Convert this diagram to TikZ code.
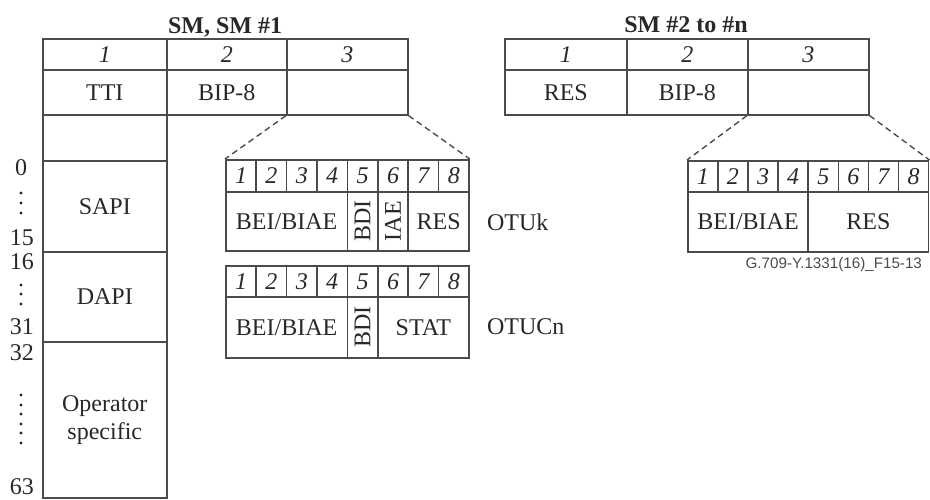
\documentclass[tikz,border=0pt]{standalone}
\usepackage{fontspec}
\setmainfont{Liberation Serif}
\newfontfamily\figsans{Liberation Sans}
\usepackage{xcolor}
\usepackage{tikz}
\usetikzlibrary{positioning}
\definecolor{LineaGris}{RGB}{75,75,75}
\definecolor{TextoGris}{RGB}{40,40,40}

\tikzset{
  celda/.style={draw=LineaGris, line width=0.8pt, inner sep=0pt, anchor=north west,
    text=TextoGris, font=\fontsize{12}{14}\selectfont},
  numcelda/.style={celda, font=\fontsize{12}{14}\selectfont\itshape},
  titulo/.style={text=TextoGris, font=\fontsize{12}{14}\selectfont\bfseries},
  etiqueta/.style={text=TextoGris, font=\fontsize{12}{14}\selectfont},
  indice/.style={etiqueta, inner sep=0pt},
  zoomlinea/.style={draw=LineaGris, line width=0.7pt, dash pattern=on 3pt off 2pt},
}

\begin{document}
\begin{tikzpicture}[x=0.5pt,y=-0.5pt]
  \useasboundingbox (0,0) rectangle (930,499);

  % SM, SM #1
  \node[titulo] (tSM) at (225,27) {SM, SM \#1};
  \node[numcelda, minimum width=62pt, minimum height=15.5pt] (h1) at (42,38) {1};
  \node[numcelda, minimum width=60pt, minimum height=15.5pt] (h2) at (166,38) {2};
  \node[numcelda, minimum width=60.5pt, minimum height=15.5pt] (h3) at (286,38) {3};
  \node[celda, minimum width=62pt, minimum height=22.5pt] (tti) at (42,69) {TTI};
  \node[celda, minimum width=60pt, minimum height=22.5pt] (bip) at (166,69) {BIP-8};
  \node[celda, minimum width=60.5pt, minimum height=22.5pt] (c3) at (286,69) {};

  % columna TTI
  \node[celda, minimum width=62pt, minimum height=23pt] (vacio) at (42,114) {};
  \node[celda, minimum width=62pt, minimum height=45.5pt] (sapi) at (42,160) {SAPI};
  \node[celda, minimum width=62pt, minimum height=45pt] (dapi) at (42,251) {DAPI};
  \node[celda, minimum width=62pt, minimum height=78pt, align=center] (oper) at (42,341) {Operator\\specific};

  % indices de byte
  \node[indice] (n0) at (21,168) {0};
  \node[indice] (n15) at (22,238) {15};
  \node[indice] (n16) at (22,262) {16};
  \node[indice] (n31) at (22,327) {31};
  \node[indice] (n32) at (22,353) {32};
  \node[indice] (n63) at (22,487) {63};
  \foreach \y in {193,203,213,285,294,304,395,405,414,424,433,443}
    \fill[TextoGris] (21,\y) circle (1.7);

  % byte 3, OTUk
  \foreach \i in {1,...,8}
    \node[numcelda, minimum width=15.2pt, minimum height=16pt] (ka\i) at ({225+(\i-1)*30.4},159) {\i};
  \node[celda, minimum width=60.8pt, minimum height=29.5pt] (kbei) at (225,191) {BEI/BIAE};
  \node[celda, minimum width=15.2pt, minimum height=29.5pt] (kbdi) at (346.6,191) {};
  \node[rotate=90, etiqueta] (kbdit) at (kbdi.center) {BDI};
  \node[celda, minimum width=15.2pt, minimum height=29.5pt] (kiae) at (377,191) {};
  \node[rotate=90, etiqueta] (kiaet) at (kiae.center) {IAE};
  \node[celda, minimum width=30.4pt, minimum height=29.5pt] (kres) at (407.4,191) {RES};
  \node[etiqueta, anchor=west] (otuk) at (480,222) {OTUk};

  % byte 3, OTUCn
  \foreach \i in {1,...,8}
    \node[numcelda, minimum width=15.2pt, minimum height=15.5pt] (ca\i) at ({225+(\i-1)*30.4},265) {\i};
  \node[celda, minimum width=60.8pt, minimum height=30.5pt] (cbei) at (225,296) {BEI/BIAE};
  \node[celda, minimum width=15.2pt, minimum height=30.5pt] (cbdi) at (346.6,296) {};
  \node[rotate=90, etiqueta] (cbdit) at (cbdi.center) {BDI};
  \node[celda, minimum width=45.6pt, minimum height=30.5pt] (cstat) at (377,296) {STAT};
  \node[etiqueta, anchor=west] (otucn) at (480,327) {OTUCn};

  \draw[zoomlinea] (c3.south west) -- (ka1.north west);
  \draw[zoomlinea] (c3.south east) -- (ka8.north east);

  % SM #2 to #n
  \node[titulo] (tSMn) at (686,25) {SM \#2 to \#n};
  \node[numcelda, minimum width=61pt, minimum height=15.5pt] (r1) at (504,38) {1};
  \node[numcelda, minimum width=60.5pt, minimum height=15.5pt] (r2) at (626,38) {2};
  \node[numcelda, minimum width=60.5pt, minimum height=15.5pt] (r3) at (747,38) {3};
  \node[celda, minimum width=61pt, minimum height=22.5pt] (rres) at (504,69) {RES};
  \node[celda, minimum width=60.5pt, minimum height=22.5pt] (rbip) at (626,69) {BIP-8};
  \node[celda, minimum width=60.5pt, minimum height=22.5pt] (rc3) at (747,69) {};

  \foreach \i in {1,...,8}
    \node[numcelda, minimum width=15.05pt, minimum height=15.5pt] (rb\i) at ({687+(\i-1)*30.1},160) {\i};
  \node[celda, minimum width=60.2pt, minimum height=30pt] (rbei) at (687,191) {BEI/BIAE};
  \node[celda, minimum width=60.2pt, minimum height=30pt] (rbres) at (807.4,191) {RES};

  \draw[zoomlinea] (rc3.south west) -- (rb1.north west);
  \draw[zoomlinea] (rc3.south east) -- (rb8.north east);

  \node[anchor=east, text=LineaGris, font=\figsans\fontsize{7.6}{9}\selectfont] (fig) at (929,265) {G.709-Y.1331(16)\_F15-13};
\end{tikzpicture}
\end{document}
